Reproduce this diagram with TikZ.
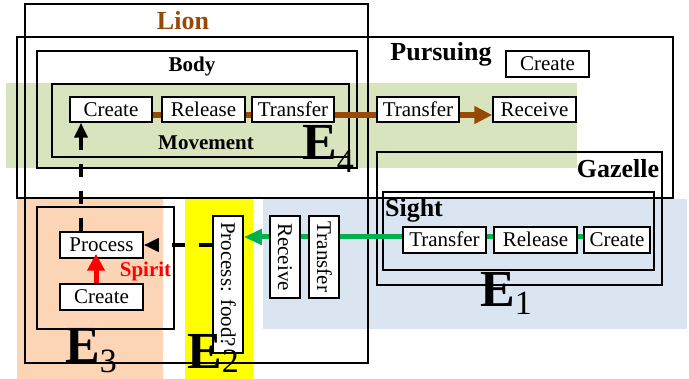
\documentclass[tikz,border=0pt]{standalone}
\usepackage{fontspec}
\setmainfont{Liberation Serif}
\usetikzlibrary{arrows.meta}
\definecolor{bandgreen}{HTML}{D7E4BD}
\definecolor{bandblue}{HTML}{DBE5F1}
\definecolor{bandpeach}{HTML}{FBD5B5}
\definecolor{bandyellow}{HTML}{FFFF00}
\definecolor{lionbrown}{HTML}{984807}
\definecolor{sightgreen}{HTML}{00B050}
\pgfdeclarelayer{bands}
\pgfdeclarelayer{frames}
\pgfdeclarelayer{links}
\pgfsetlayers{bands,frames,links,main}
\newcommand{\Ebig}{\fontsize{52}{52}\selectfont\bfseries}
\newcommand{\Esub}{\fontsize{34}{34}\selectfont\mdseries}
\begin{document}
\begin{tikzpicture}[x=1pt,y=-1pt,
  box/.style={draw, line width=1.5pt, fill=white, inner sep=0pt,
    text height=14pt, text depth=0pt, font=\fontsize{21}{21}\selectfont},
  frame/.style={draw, line width=1.6pt},
  bigtitle/.style={anchor=base, inner sep=0pt, font=\fontsize{26}{26}\selectfont\bfseries},
  midtitle/.style={anchor=base, inner sep=0pt, font=\fontsize{21}{21}\selectfont\bfseries},
  elabel/.style={anchor=base west, inner sep=0pt},
  dasharrow/.style={line width=4pt, dash pattern=on 13pt off 14pt,
    -{Triangle[length=15pt,width=13pt]}},
  brownarrow/.style={draw=lionbrown, line width=6pt,
    -{Triangle[length=18pt,width=17pt]}},
  greenarrow/.style={draw=sightgreen, line width=5pt,
    -{Triangle[length=18pt,width=15pt]}},
  redarrow/.style={draw=red, line width=5pt,
    -{Triangle[length=17pt,width=17pt]}}
]
\useasboundingbox (0,0) rectangle (689,379);

% background bands
\begin{pgfonlayer}{bands}
  \fill[bandgreen] (6,83) rectangle (577,168);
  \fill[bandblue] (263,199) rectangle (687,329);
  \fill[bandyellow] (185,199) rectangle (253,379);
  \fill[bandpeach] (17,199) rectangle (163,379);
\end{pgfonlayer}

% container frames
\begin{pgfonlayer}{frames}
  \draw[frame] (25,4) rectangle (368,363);    % Lion
  \draw[frame] (17,37) rectangle (673,198);   % Pursuing
  \draw[frame] (37,51) rectangle (357,168);   % Body
  \draw[frame] (52,84) rectangle (349,157);   % Movement
  \draw[frame] (377,152) rectangle (662,285); % Gazelle
  \draw[frame] (383,192) rectangle (654,270); % Sight
  \draw[frame] (37,207) rectangle (174,329);  % E3 box
\end{pgfonlayer}

% titles
\node[bigtitle, text=lionbrown] (tlion) at (183,30) {Lion};
\node[bigtitle] (tpursuing) at (441,61) {Pursuing};
\node[midtitle] (tbody) at (192,72) {Body};
\node[midtitle] (tmove) at (206,150) {Movement};
\node[bigtitle] (tgazelle) at (618,178) {Gazelle};
\node[bigtitle] (tsight) at (414,217) {Sight};
\node[midtitle, text=red] (tspirit) at (145.5,277) {Spirit};

% boxes
\node[box, minimum width=82pt, minimum height=25pt] (createM) at (111,109.5) {Create};
\node[box, minimum width=83pt, minimum height=25pt] (releaseM) at (203.5,109.5) {Release};
\node[box, minimum width=82pt, minimum height=25pt] (transferM) at (293,109.5) {Transfer};
\node[box, minimum width=82pt, minimum height=25pt] (transferP) at (418,109.5) {Transfer};
\node[box, minimum width=83pt, minimum height=25pt] (receiveP) at (534.5,109.5) {Receive};
\node[box, minimum width=83pt, minimum height=26pt] (createP) at (547.5,64) {Create};
\node[box, minimum width=83pt, minimum height=26pt] (transferS) at (444.5,240) {Transfer};
\node[box, minimum width=83pt, minimum height=26pt] (releaseS) at (535.5,240) {Release};
\node[box, minimum width=66pt, minimum height=26pt] (createS) at (617,240) {Create};
\node[box, minimum width=137pt, minimum height=30pt, rotate=-90] (foodV) at (228,284.5) {Process: food?};
\node[box, minimum width=82pt, minimum height=30pt, rotate=-90] (receiveV) at (285,257) {Receive};
\node[box, minimum width=82pt, minimum height=30pt, rotate=-90] (transferV) at (324,257) {Transfer};
\node[box, minimum width=83pt, minimum height=26pt] (processL) at (101.5,245) {Process};
\node[box, minimum width=83pt, minimum height=26pt] (createL) at (101.5,297) {Create};

% connectors under the boxes
\begin{pgfonlayer}{links}
  \draw[brownarrow] ([yshift=-5.5pt]createM.east) -- ([yshift=-5.5pt]receiveP.west);
  \draw[greenarrow] ([yshift=3pt]createS.west) -- ([yshift=3pt]createS.west -| foodV.north);
\end{pgfonlayer}

% dashed and red arrows
\draw[dasharrow] (processL.east -| foodV.south) -- (processL.east);
\draw[dasharrow] ([xshift=-20.5pt]processL.north) -- ([xshift=-20.5pt]processL.north |- createM.south);
\draw[redarrow] ([xshift=-5.5pt]createL.north) -- ([xshift=-5.5pt,yshift=5pt]processL.south);

% E labels
\node[elabel] (e4) at (302,160) {\Ebig E\raisebox{-13pt}{\Esub 4}};
\node[elabel] (e1) at (480,307) {\Ebig E\raisebox{-8pt}{\Esub 1}};
\node[elabel] (e3) at (65,363) {\Ebig E\raisebox{-10pt}{\Esub 3}};
\node[elabel] (e2) at (187,369) {\Ebig E\raisebox{-4pt}{\Esub 2}};
\end{tikzpicture}
\end{document}
